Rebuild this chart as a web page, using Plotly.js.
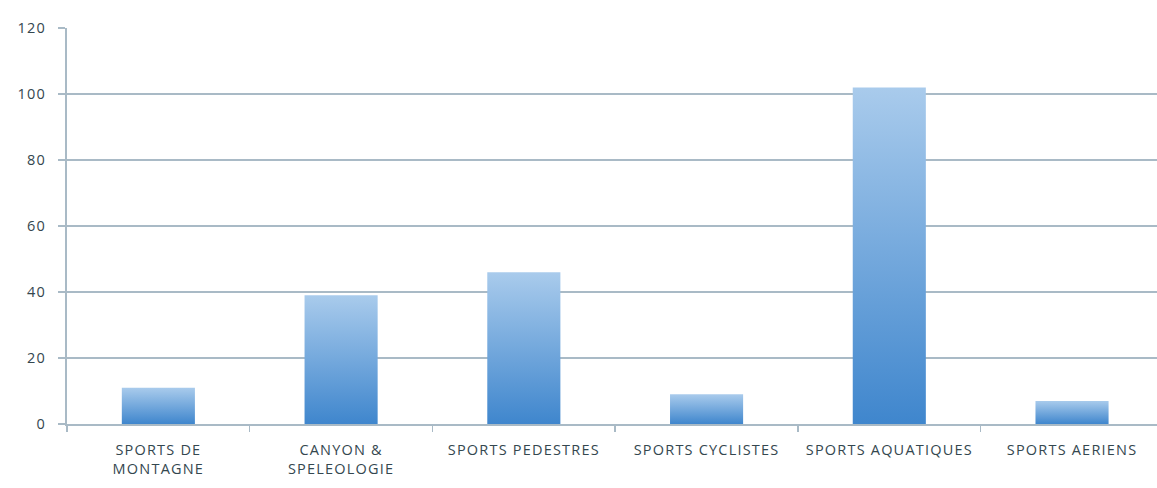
<!DOCTYPE html>
<html>
<head>
<meta charset="utf-8">
<script src="https://cdn.plot.ly/plotly-3.0.1.min.js"></script>
<style>html,body{margin:0;padding:0;background:#fff;}#chart{width:1157px;height:488px;}</style>
</head>
<body>
<div id="chart"></div>
<script>
const categories = ["SPORTS DE<br>MONTAGNE", "CANYON &amp;<br>SPELEOLOGIE", "SPORTS PEDESTRES", "SPORTS CYCLISTES", "SPORTS AQUATIQUES", "SPORTS AERIENS"];
const values = [11, 39, 46, 9, 102, 7];
const yTicks = [0, 20, 40, 60, 80, 100, 120];

const gridColor = "#a9bac6";
const textColor = "#34474f";
const trace = {
  type: "bar",
  x: categories,
  y: values,
  width: 0.4,
  marker: {color: "#6fa3dc", line: {width: 0}},
  hoverinfo: "none"
};
const layout = {
  width: 1157, height: 488,
  margin: {l: 67, r: 0, t: 28, b: 64},
  paper_bgcolor: "#ffffff", plot_bgcolor: "#ffffff",
  showlegend: false,
  font: {family: "'Open Sans', Lato, sans-serif", size: 13, color: textColor},
  xaxis: {
    type: "category",
    range: [-0.5, 5.465],
    showline: true, linecolor: gridColor, linewidth: 2,
    ticks: "outside", tickson: "boundaries", ticklen: 6, tickcolor: gridColor, tickwidth: 1.5,
    ticklabelstandoff: 12,
    showgrid: false, zeroline: false,
    tickfont: {size: 14.5, color: textColor}
  },
  yaxis: {
    range: [0, 120],
    tickvals: yTicks,
    ticktext: yTicks.map(String),
    showgrid: true, gridcolor: gridColor, gridwidth: 2,
    showline: true, linecolor: gridColor, linewidth: 2,
    ticks: "outside", ticklen: 7, tickcolor: gridColor, tickwidth: 2,
    ticklabelstandoff: 9,
    zeroline: false,
    tickfont: {size: 14.5, color: textColor}
  }
};
Plotly.newPlot("chart", [trace], layout, {staticPlot: true, displayModeBar: false}).then(function(gd){
  const svg = gd.querySelector("svg.main-svg");
  const ns = "http://www.w3.org/2000/svg";
  let defs = svg.querySelector("defs");
  if (!defs) { defs = document.createElementNS(ns, "defs"); svg.insertBefore(defs, svg.firstChild); }
  const g = document.createElementNS(ns, "linearGradient");
  g.setAttribute("id", "barGrad");
  g.setAttribute("x1", "0"); g.setAttribute("y1", "0");
  g.setAttribute("x2", "0"); g.setAttribute("y2", "1");
  [["0%", "#a9cbec"], ["100%", "#3f86cd"]].forEach(function(s){
    const st = document.createElementNS(ns, "stop");
    st.setAttribute("offset", s[0]); st.setAttribute("stop-color", s[1]);
    g.appendChild(st);
  });
  defs.appendChild(g);
  gd.querySelectorAll(".bars .point path").forEach(function(p){ p.style.fill = "url(#barGrad)"; });
  gd.querySelectorAll(".xtick text").forEach(function(t){ t.style.letterSpacing = "1.2px"; });
  gd.querySelectorAll(".ytick text").forEach(function(t){ t.style.letterSpacing = "1.2px"; });
});
</script>
</body>
</html>
